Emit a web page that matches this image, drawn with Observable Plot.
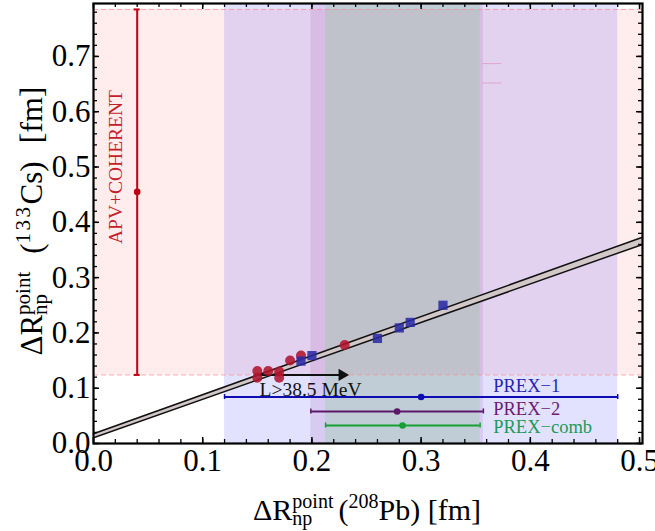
<!DOCTYPE html>
<html><head><meta charset="utf-8">
<script src="https://cdn.jsdelivr.net/npm/d3@7"></script>
<script src="https://cdn.jsdelivr.net/npm/@observablehq/plot@0.6"></script>
<style>body{margin:0;background:#fff;} svg{display:block}</style>
</head><body><div id="chart"></div>
<script>
const FONT = "'Liberation Serif','Times New Roman',serif";

// --- theory models (red circles / blue squares)
const redModelX = [0.15, 0.15, 0.16, 0.17, 0.17, 0.18, 0.19, 0.23];
const redModelY = [0.131, 0.119, 0.131, 0.130, 0.119, 0.150, 0.159, 0.178];
const blueModelX = [0.19, 0.20, 0.26, 0.28, 0.29, 0.32];
const blueModelY = [0.149, 0.159, 0.190, 0.209, 0.219, 0.250];

// --- linear correlation band
const fitX = [0, 0.5027];
const fitLow = [0.0103, 0.360];
const fitHigh = [0.0175, 0.373];

// --- PREX measurements
const prexNames = ["PREX\u22121", "PREX\u22122", "PREX\u2212comb"];
const prexCentral = [0.300, 0.278, 0.283];
const prexLow = [0.120, 0.199, 0.2125];
const prexHigh = [0.480, 0.357, 0.354];
const prexRowY = [0.084, 0.058, 0.0325];
const prexLabelX = [0.366, 0.366, 0.366];
const prexLabelY = [0.103, 0.063, 0.030];
const prexColors = ["#0c0cb4", "#5c1868", "#16a034"];
const prexTextColors = ["#2424b4", "#6c1c70", "#1c9a58"];

// --- APV+COHERENT
const apvX = [0.04];
const apvCentral = [0.455];
const apvLow = [0.124];
const apvHigh = [0.785];
const apvLabel = ["APV+COHERENT"];
const apvLabelPos = [0.02, 0.50];

// --- L > 38.5 MeV arrow
const lArrowX = [0.150, 0.234];
const lArrowY = [0.124];
const lLabel = ["L>38.5 MeV"];
const lLabelPos = [0.152, 0.098];

// faint leftover marks
const faintY = [0.687, 0.652];
const faintX = [0.356, 0.374];

// --- axes
const xDomain = [0, 0.5027];
const yDomain = [0, 0.7957];
const xTicks = [0, 0.1, 0.2, 0.3, 0.4, 0.5];
const yTicks = [0, 0.1, 0.2, 0.3, 0.4, 0.5, 0.6, 0.7];
const xMinor = d3.range(0, 0.5001, 0.02);
const yMinor = d3.range(0, 0.7901, 0.02);

const W = 655, H = 531, mL = 93, mR = 13, mT = 3, mB = 88;
const innerW = W - mL - mR, innerH = H - mT - mB;
const majorLen = 6, minorLen = 4;

const idx3 = [0, 1, 2];
const redIdx = redModelX.map((_, i) => i);
const blueIdx = blueModelX.map((_, i) => i);
const fitIdx = fitX.map((_, i) => i);

const bandOpacity = [0.115, 0.10, 0.25];
const bandFill = ["#0000ff", "#800080", "#78d282"];

const marks = [
  Plot.rect(apvX, {x1: xDomain[0], x2: xDomain[1], y1: apvLow[0], y2: apvHigh[0], fill: "#ff0000", fillOpacity: 0.07}),
  ...idx3.map(i => Plot.rect([i], {x1: prexLow[i], x2: prexHigh[i], y1: yDomain[0], y2: yDomain[1], fill: bandFill[i], fillOpacity: bandOpacity[i]})),
  Plot.ruleY([apvLow[0], apvHigh[0]], {stroke: "#f19494", strokeDasharray: "5,3", strokeWidth: 1, strokeOpacity: 0.8}),
  Plot.ruleY(faintY, {x1: faintX[0], x2: faintX[1], stroke: "#e0a4d2", strokeWidth: 1}),
  Plot.areaY(fitIdx, {x: i => fitX[i], y1: i => fitLow[i], y2: i => fitHigh[i], fill: "#d2c8c8"}),
  Plot.line(fitIdx, {x: i => fitX[i], y: i => fitLow[i], stroke: "#111", strokeWidth: 1.5}),
  Plot.line(fitIdx, {x: i => fitX[i], y: i => fitHigh[i], stroke: "#111", strokeWidth: 1.5}),
  Plot.ruleY(lArrowY, {x1: lArrowX[0], x2: lArrowX[1], stroke: "#111", strokeWidth: 2, insetRight: 6}),
  Plot.dot(lArrowY, {x: lArrowX[1], y: d => d, symbol: "triangle", rotate: 90, r: 4.5, fill: "#111", dx: -7}),
  Plot.dot(redIdx, {x: i => redModelX[i], y: i => redModelY[i], r: 5, fill: "#b0142e", fillOpacity: 0.88}),
  Plot.dot(blueIdx, {x: i => blueModelX[i], y: i => blueModelY[i], symbol: "square", r: 5.2, fill: "#2a2aa6", fillOpacity: 0.88}),
  ...idx3.map(i => Plot.ruleY([i], {x1: prexLow[i], x2: prexHigh[i], y: prexRowY[i], stroke: prexColors[i], strokeWidth: 2})),
  ...idx3.map(i => Plot.ruleX([prexLow[i], prexHigh[i]], {x: d => d, y1: prexRowY[i], y2: prexRowY[i], stroke: prexColors[i], strokeWidth: 1.5, insetTop: -2.5, insetBottom: -2.5})),
  ...idx3.map(i => Plot.dot([i], {x: prexCentral[i], y: prexRowY[i], r: 3.3, fill: prexColors[i]})),
  ...idx3.map(i => Plot.text([prexNames[i]], {x: prexLabelX[i], y: prexLabelY[i], text: d => d, fill: prexTextColors[i], fontSize: 18.5, textAnchor: "start", lineAnchor: "middle", fontFamily: FONT})),
  Plot.ruleX(apvX, {x: d => d, y1: apvLow[0], y2: apvHigh[0], stroke: "#c00010", strokeWidth: 2}),
  Plot.ruleY([apvLow[0], apvHigh[0]], {x1: apvX[0], x2: apvX[0], y: d => d, stroke: "#c00010", strokeWidth: 2, insetLeft: -3, insetRight: -3}),
  Plot.dot(apvX, {x: d => d, y: apvCentral[0], r: 3.3, fill: "#c00010"}),
  Plot.text(apvLabel, {x: apvLabelPos[0], y: apvLabelPos[1], text: d => d, rotate: -90, fill: "#c4202a", fontSize: 19.5, fontFamily: FONT}),
  Plot.text(lLabel, {x: lLabelPos[0], y: lLabelPos[1], text: d => d, fill: "#111", fontSize: 19.5, textAnchor: "start", fontFamily: FONT}),
  Plot.ruleX(xMinor, {x: d => d, stroke: "#000", strokeWidth: 1.3, insetTop: innerH - minorLen}),
  Plot.ruleX(xMinor, {x: d => d, stroke: "#000", strokeWidth: 1.3, insetBottom: innerH - minorLen}),
  Plot.ruleX(xTicks, {x: d => d, stroke: "#000", strokeWidth: 1.5, insetTop: innerH - majorLen}),
  Plot.ruleX(xTicks, {x: d => d, stroke: "#000", strokeWidth: 1.5, insetBottom: innerH - majorLen}),
  Plot.ruleY(yMinor, {y: d => d, stroke: "#000", strokeWidth: 1.3, insetRight: innerW - minorLen}),
  Plot.ruleY(yMinor, {y: d => d, stroke: "#000", strokeWidth: 1.3, insetLeft: innerW - minorLen}),
  Plot.ruleY(yTicks, {y: d => d, stroke: "#000", strokeWidth: 1.5, insetRight: innerW - majorLen}),
  Plot.ruleY(yTicks, {y: d => d, stroke: "#000", strokeWidth: 1.5, insetLeft: innerW - majorLen}),
  Plot.frame({stroke: "#000", strokeWidth: 2.2}),
  Plot.axisX({ticks: xTicks, tickSize: 0, tickPadding: 5, tickFormat: d => d.toFixed(1), label: null, fontSize: 31, fontFamily: FONT, fill: "#000"}),
  Plot.axisY({ticks: yTicks, tickSize: 0, tickPadding: 3, tickFormat: d => d.toFixed(1), label: null, fontSize: 31, fontFamily: FONT, fill: "#000"})
];

const chart = Plot.plot({
  width: W, height: H,
  marginLeft: mL, marginRight: mR, marginTop: mT, marginBottom: mB,
  x: {domain: xDomain},
  y: {domain: yDomain},
  style: {fontFamily: FONT, background: "#fff", color: "#000", overflow: "visible"},
  marks
});
document.getElementById("chart").appendChild(chart);

// rich-text axis titles
const svg = d3.select(chart);
function rich(items, cx, cy, rotate) {
  const g = svg.append("g").attr("font-family", FONT).attr("fill", "#000").attr("text-anchor", "start");
  let x = 0;
  for (const it of items) {
    if (it.gap) { x += it.gap; continue; }
    let w = 0;
    for (const p of it.parts) {
      const t = g.append("text").attr("x", x).attr("y", p.dy || 0)
        .attr("text-anchor", "start")
        .attr("font-size", p.size).attr("letter-spacing", p.ls || 0).text(p.t);
      w = Math.max(w, t.node().getComputedTextLength());
    }
    x += w;
  }
  g.attr("transform", rotate
    ? `translate(${cx},${cy}) rotate(-90) translate(${-x / 2},0)`
    : `translate(${cx - x / 2},${cy})`);
}
const xTitle = [
  {parts: [{t: "\u0394R", size: 30}]},
  {parts: [{t: "point", size: 20, dy: -12}, {t: "np", size: 20, dy: 5}]},
  {gap: 5},
  {parts: [{t: "(", size: 30}]},
  {parts: [{t: "208", size: 20, dy: -12}]},
  {parts: [{t: "Pb) [fm]", size: 30}]}
];
const yTitle = [
  {parts: [{t: "\u0394R", size: 31}]},
  {parts: [{t: "point", size: 21, dy: -12}, {t: "np", size: 21, dy: 5}]},
  {gap: 18},
  {parts: [{t: "(", size: 31}]},
  {parts: [{t: "133", size: 21, dy: -12, ls: 2.5}]},
  {parts: [{t: "Cs)", size: 31}]},
  {gap: 18},
  {parts: [{t: "[fm]", size: 32}]}
];
rich(xTitle, 367, 520, false);
rich(yTitle, 42, 221, true);
</script>
</body></html>
